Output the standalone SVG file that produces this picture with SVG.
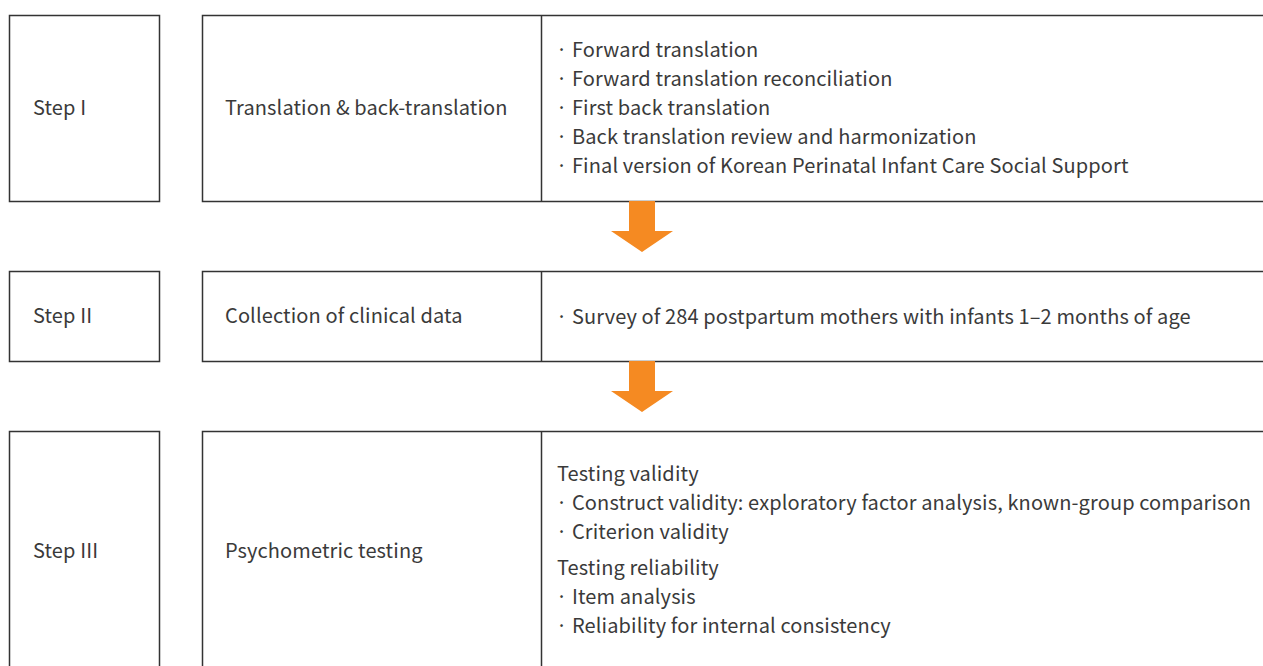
<svg xmlns="http://www.w3.org/2000/svg" width="1263" height="666" viewBox="0 0 1263 666">
<style>
.box{fill:#fff;stroke:#333;stroke-width:1.5}
.ln{stroke:#333;stroke-width:1.5;fill:none}
text{font-family:"Noto Sans CJK KR","Noto Sans",sans-serif;font-size:20px;fill:#3a3a3a;letter-spacing:0.12px}
.arr{fill:#f58a22}
</style>
<rect width="1263" height="666" fill="#fff"/>
<g id="step1">
<rect class="box" x="9.5" y="15.5" width="150" height="186"/>
<text x="33" y="115">Step I</text>
</g>
<g id="translation">
<path class="ln" d="M1265 15.5H202.5V201.5H1265M541.5 15.5V201.5"/>
<text x="225" y="115" letter-spacing="0.35">Translation &amp; back-translation</text>
<text x="556" y="57">· Forward translation</text>
<text x="556" y="86">· Forward translation reconciliation</text>
<text x="556" y="115">· First back translation</text>
<text x="556" y="144">· Back translation review and harmonization</text>
<text x="556" y="173">· Final version of Korean Perinatal Infant Care Social Support</text>
</g>
<g id="step2">
<rect class="box" x="9.5" y="271.5" width="150" height="90"/>
<text x="33" y="323">Step II</text>
</g>
<g id="collection">
<path class="ln" d="M1265 271.5H202.5V361.5H1265M541.5 271.5V361.5"/>
<text x="225" y="323">Collection of clinical data</text>
<text x="556" y="324">· Survey of 284 postpartum mothers with infants 1–2 months of age</text>
</g>
<g id="step3">
<path class="ln" d="M9.5 670V431.5H159.5V670"/>
<text x="33" y="558">Step III</text>
</g>
<g id="psychometric">
<path class="ln" d="M1265 431.5H202.5V670M541.5 431.5V670"/>
<text x="225" y="558">Psychometric testing</text>
<text x="557" y="481">Testing validity</text>
<text x="556" y="510">· Construct validity: exploratory factor analysis, known-group comparison</text>
<text x="556" y="539">· Criterion validity</text>
<text x="557" y="575">Testing reliability</text>
<text x="556" y="604">· Item analysis</text>
<text x="556" y="633">· Reliability for internal consistency</text>
</g>
<g id="connectors">
<polygon class="arr" points="629,201 655,201 655,231 673,231 642,252 611,231 629,231"/>
<polygon class="arr" points="629,361 655,361 655,391 673,391 642,412 611,391 629,391"/>
</g>
</svg>
